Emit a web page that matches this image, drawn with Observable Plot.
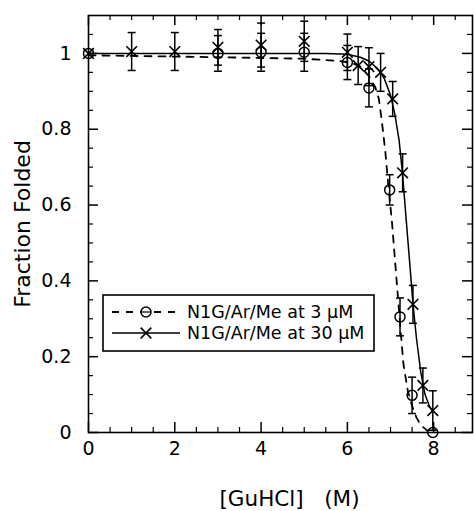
<!DOCTYPE html>
<html><head><meta charset="utf-8">
<script src="https://cdn.jsdelivr.net/npm/d3@7"></script>
<script src="https://cdn.jsdelivr.net/npm/@observablehq/plot@0.6"></script>
<style>
body{margin:0;background:#fff;}
#wrap{position:relative;width:474px;height:511px;}
#wrap svg{font-family:"DejaVu Sans",sans-serif;}
#legend{position:absolute;left:0;top:0;pointer-events:none;}
</style></head><body><div id="wrap"></div>
<script>
// ---- data ----
const series30Label = "N1G/Ar/Me at 30 \u03bcM";
const series3Label = "N1G/Ar/Me at 3 \u03bcM";

// 30 uM (x markers)
const gu30 = [0, 1, 2, 3, 4, 5, 6, 6.25, 6.5, 6.77, 7.05, 7.28, 7.52, 7.75, 7.98];
const ff30 = [1.0, 1.005, 1.005, 1.016, 1.022, 1.032, 1.003, 0.968, 0.965, 0.95, 0.88, 0.685, 0.338, 0.124, 0.058];
const err30 = [0, 0.05, 0.05, 0.047, 0.058, 0.053, 0.048, 0.05, 0.05, 0.05, 0.046, 0.05, 0.05, 0.046, 0.052];

// 3 uM (circle markers)
const gu3 = [0, 3, 4, 5, 6, 6.5, 6.98, 7.22, 7.5, 7.98];
const ff3 = [1.0, 1.0, 1.003, 1.003, 0.976, 0.909, 0.64, 0.305, 0.098, 0.0];
const err3 = [0, 0.047, 0.05, 0.05, 0.045, 0.05, 0.04, 0.05, 0.048, 0];

// fitted curves (traced)
const fit30X = [0, 5.5, 6.0, 6.3, 6.5, 6.7, 6.85, 7.0, 7.1, 7.2, 7.28, 7.35, 7.45, 7.52, 7.6, 7.7, 7.8, 7.9, 7.98];
const fit30Y = [1.0, 1.0, 0.998, 0.99, 0.98, 0.96, 0.935, 0.89, 0.84, 0.77, 0.68, 0.58, 0.44, 0.34, 0.25, 0.16, 0.1, 0.07, 0.055];
const fit3X = [0, 3, 5, 5.8, 6.1, 6.3, 6.5, 6.65, 6.73, 6.8, 6.88, 6.95, 7.03, 7.1, 7.17, 7.24, 7.3, 7.4, 7.5, 7.6, 7.7, 7.85];
const fit3Y = [0.995, 0.99, 0.986, 0.98, 0.975, 0.965, 0.94, 0.91, 0.88, 0.82, 0.74, 0.65, 0.56, 0.46, 0.36, 0.26, 0.18, 0.11, 0.07, 0.04, 0.02, 0.005];

// ticks
const xMajor = [0, 2, 4, 6, 8];
const xMinor = [0.5, 1, 1.5, 2.5, 3, 3.5, 4.5, 5, 5.5, 6.5, 7, 7.5, 8.5];
const yMajor = [0, 0.2, 0.4, 0.6, 0.8, 1];
const yMinor = [0.05, 0.1, 0.15, 0.25, 0.3, 0.35, 0.45, 0.5, 0.55, 0.65, 0.7, 0.75, 0.85, 0.9, 0.95, 1.05];

// ---- build tables ----
const pts30 = gu30.map((x, i) => ({x, y: ff30[i], e: err30[i]}));
const pts3 = gu3.map((x, i) => ({x, y: ff3[i], e: err3[i]}));
const line30 = fit30X.map((x, i) => ({x, y: fit30Y[i]}));
const line3 = fit3X.map((x, i) => ({x, y: fit3Y[i]}));
const bars = [...pts30, ...pts3].filter(d => d.e > 0);

const W = 474, H = 511, mL = 88, mR = 2, mT = 15, mB = 79;
const iW = W - mL - mR, iH = H - mT - mB;
const majLen = 10, minLen = 5;
const timesR = 4.9;

const capSymbol = {draw(ctx) { ctx.moveTo(-4, 0); ctx.lineTo(4, 0); }};

const chart = Plot.plot({
  width: W, height: H,
  marginLeft: mL, marginRight: mR, marginTop: mT, marginBottom: mB,
  x: {domain: [0, 8.9]},
  y: {domain: [0, 1.1]},
  style: {fontFamily: "DejaVu Sans, sans-serif", background: "white", color: "black"},
  marks: [
    // inward ticks on all four sides
    Plot.ruleX(xMajor, {x: d => d, insetTop: iH - majLen, strokeWidth: 1.5}),
    Plot.ruleX(xMinor, {x: d => d, insetTop: iH - minLen, strokeWidth: 1.2}),
    Plot.ruleX(xMajor, {x: d => d, insetBottom: iH - majLen, strokeWidth: 1.5}),
    Plot.ruleX(xMinor, {x: d => d, insetBottom: iH - minLen, strokeWidth: 1.2}),
    Plot.ruleY(yMajor, {y: d => d, insetRight: iW - majLen, strokeWidth: 1.5}),
    Plot.ruleY(yMinor, {y: d => d, insetRight: iW - minLen, strokeWidth: 1.2}),
    Plot.ruleY(yMajor, {y: d => d, insetLeft: iW - majLen, strokeWidth: 1.5}),
    Plot.ruleY(yMinor, {y: d => d, insetLeft: iW - minLen, strokeWidth: 1.2}),
    Plot.axisX(xMajor, {tickSize: 0, tickPadding: 9, fontSize: 19, label: null}),
    Plot.axisY(yMajor, {tickSize: 0, tickPadding: 17, fontSize: 19, label: null, tickFormat: d => String(d)}),
    Plot.text(["[GuHCl]\u00a0\u00a0\u00a0(M)"], {frameAnchor: "bottom", textAnchor: "middle", lineAnchor: "middle", dy: 67, dx: 9, fontSize: 21.5}),
    Plot.text(["Fraction Folded"], {frameAnchor: "left", textAnchor: "middle", lineAnchor: "middle", rotate: -90, dx: -66, fontSize: 22}),
    // fitted curves
    Plot.line(line3, {x: "x", y: "y", stroke: "black", strokeWidth: 1.8, strokeDasharray: "7,7"}),
    Plot.line(line30, {x: "x", y: "y", stroke: "black", strokeWidth: 1.5}),
    // error bars
    Plot.ruleX(bars, {x: "x", y1: d => d.y - d.e, y2: d => d.y + d.e, stroke: "black", strokeWidth: 1.5}),
    Plot.dot(bars, {x: "x", y: d => d.y - d.e, symbol: capSymbol, stroke: "black", strokeWidth: 1.5}),
    Plot.dot(bars, {x: "x", y: d => d.y + d.e, symbol: capSymbol, stroke: "black", strokeWidth: 1.5}),
    // markers
    Plot.dot(pts3, {x: "x", y: "y", r: 5, stroke: "black", fill: "none", strokeWidth: 1.5}),
    Plot.dot(pts30, {x: "x", y: "y", symbol: "times", r: timesR, stroke: "black", strokeWidth: 1.6}),
    Plot.frame({stroke: "black", strokeWidth: 1.6})
  ]
});
const wrap = document.getElementById("wrap");
wrap.appendChild(chart);

// legend drawn inside the plot area (overlay)
const lg = d3.select(wrap).append("svg").attr("id", "legend").attr("width", W).attr("height", H);
const box = {x: 103, y: 295, w: 271, h: 56};
lg.append("rect").attr("x", box.x).attr("y", box.y).attr("width", box.w).attr("height", box.h)
  .attr("fill", "white").attr("stroke", "black").attr("stroke-width", 1.6);
const rows = [
  {label: series3Label, dash: "7,7", marker: "circle"},
  {label: series30Label, dash: null, marker: "times"}
];
rows.forEach((r, i) => {
  const cy = box.y + 17 + i * 21;
  const g = lg.append("g");
  g.append("line").attr("x1", box.x + 9).attr("x2", box.x + 77).attr("y1", cy).attr("y2", cy)
    .attr("stroke", "black").attr("stroke-width", r.dash ? 1.8 : 1.5).attr("stroke-dasharray", r.dash);
  const mx = box.x + 43;
  if (r.marker === "circle") {
    g.append("circle").attr("cx", mx).attr("cy", cy).attr("r", 5).attr("fill", "white").attr("stroke", "black").attr("stroke-width", 1.5);
    g.append("line").attr("x1", mx - 5).attr("x2", mx + 5).attr("y1", cy).attr("y2", cy).attr("stroke", "black").attr("stroke-width", 1.2);
  } else {
    g.append("path").attr("transform", `translate(${mx},${cy})`)
      .attr("d", d3.symbol(d3.symbolTimes, Math.PI * timesR * timesR)()).attr("fill", "none").attr("stroke", "black").attr("stroke-width", 1.6);
  }
  g.append("text").attr("x", box.x + 84).attr("y", cy).attr("dy", "0.35em")
    .attr("font-size", 17.5).attr("font-family", "DejaVu Sans, sans-serif").text(r.label);
});
</script></body></html>
